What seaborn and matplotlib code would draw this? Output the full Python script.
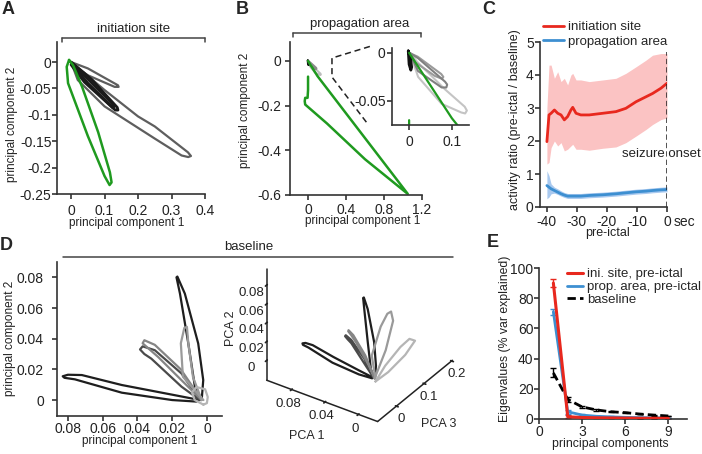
import matplotlib
matplotlib.use("Agg")
import matplotlib.pyplot as plt
import seaborn as sns

sns.set_theme(style="ticks")
plt.rcParams["font.family"] = ["Liberation Sans", "DejaVu Sans"]
plt.rcParams["axes.unicode_minus"] = False

# --------------------------------------------------------------
# data
# --------------------------------------------------------------
GREEN = "#1f9a1f"
RED = "#e8281e"
BLUE = "#3d8fd1"

# A - initiation site trajectories (pc1, pc2)
a_green_x = [-0.006, 0.006, 0.033, 0.081, 0.116, 0.121, 0.115, 0.10, 0.05, -0.009, -0.013, -0.006]
a_green_y = [0.004, -0.006, -0.047, -0.133, -0.209, -0.228, -0.233, -0.216, -0.14, -0.04, -0.009, 0.004]
a_gray_big_x = [0.0, 0.012, 0.10, 0.20, 0.25, 0.349, 0.358, 0.35, 0.33, 0.25, 0.10, 0.02, 0.0]
a_gray_big_y = [0.0, -0.006, -0.053, -0.103, -0.122, -0.171, -0.178, -0.18, -0.177, -0.145, -0.084, -0.034, 0.0]
a_gray_short_x = [0.0, 0.05, 0.14, 0.142, 0.13, 0.05, 0.01]
a_gray_short_y = [0.0, -0.012, -0.044, -0.047, -0.047, -0.025, -0.008]
a_black1_x = [0.0, 0.06, 0.138, 0.14, 0.132, 0.05, 0.003]
a_black1_y = [0.0, -0.032, -0.086, -0.091, -0.091, -0.04, -0.004]
a_black2_x = [0.005, 0.07, 0.13, 0.125, 0.04, 0.0]
a_black2_y = [-0.003, -0.045, -0.083, -0.087, -0.038, -0.005]

# B - propagation area trajectories (pc1, pc2)
b_green_x = [0.0, 0.0, -0.005, -0.03, -0.035, -0.03, 0.2, 0.6, 1.05, 0.1, 0.0]
b_green_y = [-0.07, -0.13, -0.165, -0.165, -0.18, -0.195, -0.28, -0.44, -0.595, -0.068, 0.0]
b_light_x = [0.002, 0.018, 0.084, 0.13, 0.135, 0.131, 0.122, 0.076, 0.021, 0.002]
b_light_y = [0.0, -0.009, -0.038, -0.056, -0.06, -0.063, -0.062, -0.053, -0.025, 0.0]
b_mid1_x = [0.001, 0.021, 0.084, 0.089, 0.087, 0.076, 0.021, 0.001]
b_mid1_y = [0.0, -0.0056, -0.030, -0.033, -0.036, -0.036, -0.019, 0.0]
b_mid2_x = [0.0, 0.02, 0.075, 0.08, 0.077, 0.06, 0.015, 0.0]
b_mid2_y = [0.0, -0.004, -0.022, -0.025, -0.027, -0.024, -0.01, 0.0]
b_black_x = [-0.002, 0.003, 0.006, 0.004, 0.0, -0.002]
b_black_y = [0.002, -0.005, -0.015, -0.018, -0.012, 0.002]

# C - activity ratio before seizure onset
c_time = [-40, -39.3, -38.6, -37.5, -36.4, -35.3, -34.2, -33.1, -32, -31.4, -30.3,
          -28.7, -25.9, -21.4, -17, -13.7, -10.3, -7, -4.8, -2, 0]
c_init = [1.98, 2.79, 2.84, 2.94, 2.84, 2.79, 2.64, 2.74, 2.94, 3.02, 2.84,
          2.79, 2.79, 2.84, 2.89, 2.99, 3.19, 3.34, 3.44, 3.6, 3.75]
c_init_hi = [3.0, 4.3, 4.3, 3.9, 4.1, 3.8, 3.9, 3.7, 4.0, 4.05, 3.85,
             3.85, 3.8, 3.85, 3.9, 4.05, 4.25, 4.45, 4.6, 4.65, 4.65]
c_init_lo = [1.3, 1.35, 1.8, 2.0, 1.85, 1.95, 1.7, 1.75, 1.85, 1.9, 1.75,
             1.75, 1.72, 1.78, 1.82, 1.95, 2.15, 2.35, 2.5, 2.65, 2.7]
c_prop = [0.65, 0.6, 0.55, 0.5, 0.45, 0.4, 0.36, 0.33, 0.33, 0.33, 0.33,
          0.33, 0.35, 0.37, 0.4, 0.43, 0.46, 0.48, 0.5, 0.52, 0.53]
c_prop_hi = [1.1, 0.95, 0.7, 0.6, 0.55, 0.49, 0.44, 0.41, 0.41, 0.41, 0.41,
             0.41, 0.43, 0.45, 0.48, 0.51, 0.54, 0.56, 0.58, 0.6, 0.61]
c_prop_lo = [0.25, 0.3, 0.4, 0.42, 0.38, 0.33, 0.29, 0.26, 0.26, 0.26, 0.26,
             0.26, 0.28, 0.3, 0.33, 0.36, 0.39, 0.41, 0.43, 0.45, 0.46]

# D - baseline trajectories (pc1, pc2, pc3)
d_loops = [
    # colour, pc1, pc2, pc3
    ("#1e1e1e",
     [0.004, 0.02, 0.049, 0.072, 0.080, 0.083, 0.082, 0.076, 0.049, 0.02, 0.006],
     [0.0, 0.0035, 0.0098, 0.0163, 0.0165, 0.0155, 0.0145, 0.0135, 0.0048, 0.0, -0.001],
     [0.0, -0.004, -0.01, -0.016, -0.018, -0.02, -0.021, -0.02, -0.014, -0.006, 0.0]),
    ("#1e1e1e",
     [0.004, 0.0069, 0.0107, 0.0155, 0.0175, 0.017, 0.0127, 0.005, 0.0021, 0.003],
     [0.0, 0.0087, 0.0369, 0.0694, 0.080, 0.0805, 0.0694, 0.0369, 0.013, 0.0],
     [0.0, -0.002, -0.002, 0.0, 0.002, 0.003, 0.004, 0.004, 0.002, 0.0]),
    ("#4a4a4a",
     [0.004, 0.0146, 0.030, 0.037, 0.0385, 0.036, 0.032, 0.0146, 0.004],
     [0.0, 0.0173, 0.0325, 0.035, 0.033, 0.030, 0.027, 0.0087, 0.0],
     [0.0, -0.002, -0.003, -0.002, 0.0, 0.002, 0.003, 0.003, 0.0]),
    ("#858585",
     [0.003, 0.015, 0.030, 0.036, 0.037, 0.034, 0.028, 0.012, 0.003],
     [0.0, 0.02, 0.036, 0.039, 0.037, 0.034, 0.028, 0.01, 0.0],
     [0.0, 0.002, 0.004, 0.005, 0.007, 0.008, 0.008, 0.005, 0.0]),
    ("#9a9a9a",
     [0.002, 0.0138, 0.015, 0.013, 0.0115, 0.0107, 0.008, 0.003],
     [0.0, 0.0152, 0.037, 0.047, 0.0477, 0.037, 0.015, 0.0],
     [0.0, 0.022, 0.058, 0.076, 0.085, 0.09, 0.055, 0.0]),
    ("#b5b5b5",
     [0.002, 0.007, 0.0086, 0.006, 0.001, -0.0005, 0.0, 0.002],
     [-0.003, 0.0, 0.005, 0.0085, 0.007, 0.002, -0.002, -0.003],
     [0.0, 0.05, 0.11, 0.135, 0.14, 0.10, 0.04, 0.0]),
]

# E - eigenvalue spectra
e_pc = [1, 2, 3, 4, 5, 6, 7, 8, 9]
e_init = [90, 1.5, 1.0, 0.8, 0.7, 0.6, 0.5, 0.5, 0.4]
e_init_err = [2.5, 1.0, 0.3, 0.2, 0.2, 0.2, 0.2, 0.2, 0.2]
e_prop = [71, 4.8, 2.6, 1.8, 1.4, 1.1, 0.9, 0.8, 0.7]
e_prop_err = [2.0, 1.2, 0.5, 0.3, 0.3, 0.2, 0.2, 0.2, 0.2]
e_base = [30.5, 13, 8, 6, 4.8, 4.2, 3.3, 2.6, 2.0]
e_base_err = [3.0, 1.5, 0.6, 0.4, 0.3, 0.3, 0.3, 0.3, 0.3]

# --------------------------------------------------------------
# figure helpers
# --------------------------------------------------------------
W, H = 702, 454
fig = plt.figure(figsize=(W / 100, H / 100), dpi=100)
TXT = "#222222"


def add_ax(l, t, r, b, **kw):
    return fig.add_axes([l / W, 1 - b / H, (r - l) / W, (b - t) / H], **kw)


def style(ax, xpad, ypad, size=10):
    sns.despine(ax=ax)
    for s in ("left", "bottom"):
        ax.spines[s].set_linewidth(1.2)
        ax.spines[s].set_color("#333333")
    ax.tick_params(direction="out", length=3.5, width=1.2, labelsize=size,
                   colors="#333333", labelcolor=TXT)
    ax.tick_params(axis="x", pad=xpad)
    ax.tick_params(axis="y", pad=ypad)


def labels(ax, xl, yl, xpos, ypos, size=8.5):
    ax.set_xlabel(xl, fontsize=size, color=TXT, va="center")
    ax.set_ylabel(yl, fontsize=size, color=TXT, va="center")
    ax.xaxis.set_label_coords(*xpos)
    ax.yaxis.set_label_coords(*ypos)


def loop(ax, x, y, color, lw=1.6):
    sns.lineplot(x=x, y=y, sort=False, estimator=None, color=color, lw=lw, ax=ax)


def bracket(ax, x0, x1, y, text, tpos):
    ax.plot([x0, x1], [y, y], color="#444444", lw=1.1, transform=ax.transAxes, clip_on=False)
    for xx in (x0, x1):
        ax.plot([xx, xx], [y, y - 0.025], color="#444444", lw=1.1,
                transform=ax.transAxes, clip_on=False)
    ax.text(tpos[0], tpos[1], text, ha="center", va="center", fontsize=9.5,
            color=TXT, transform=ax.transAxes)


def panel(x, y, letter):
    fig.text(x / W, 1 - y / H, letter, fontsize=13, fontweight="bold", va="center", ha="left")


# --------------------------------------------------------------
# D (3-D view first so that the 2-D panels draw over its empty box)
# --------------------------------------------------------------
ax3 = add_ax(244, 205, 469, 430, projection="3d")
ax3.set_facecolor((1, 1, 1, 0))
for col, x, y, z in d_loops:
    ax3.plot(z, x, y, color=col, lw=1.6)
ax3.set_proj_type("ortho")
ax3.view_init(elev=33.5, azim=-146)
ax3.set_box_aspect((1, 1, 1))
ax3.set_xlim(-0.068, 0.203)
ax3.set_ylim(-0.023, 0.11)
ax3.set_zlim(-0.021, 0.0975)
ax3.set_xticks([0, 0.1, 0.2], ["0", "0.1", "0.2"])
ax3.set_yticks([0, 0.04, 0.08], ["0", "0.04", "0.08"])
ax3.set_zticks([0, 0.02, 0.04, 0.06, 0.08], ["0", "0.02", "0.04", "0.06", "0.08"])
ax3.grid(False)
for a in (ax3.xaxis, ax3.yaxis, ax3.zaxis):
    a.pane.fill = False
    a.pane.set_edgecolor("none")
    a.line.set_color("#222222")
    a.line.set_linewidth(1.1)
    a.set_tick_params(labelsize=9.5, colors="#222222", pad=-4)
    a.set_rotate_label(False)
ax3.zaxis.set_tick_params(pad=-1)
ax3.set_xlabel("PCA 3", fontsize=9, labelpad=-3, rotation=0)
ax3.set_ylabel("PCA 1", fontsize=9, labelpad=-4, rotation=0)
ax3.set_zlabel("PCA 2", fontsize=9, labelpad=-5, rotation=90)

# --------------------------------------------------------------
# A
# --------------------------------------------------------------
ax = add_ax(57, 42, 205, 194)
loop(ax, a_gray_big_x, a_gray_big_y, "#5e5e5e")
loop(ax, a_gray_short_x, a_gray_short_y, "#5e5e5e")
loop(ax, a_black1_x, a_black1_y, "#1a1a1a", 2.0)
loop(ax, a_black2_x, a_black2_y, "#1a1a1a", 2.0)
loop(ax, a_green_x, a_green_y, GREEN, 1.8)
ax.set_xlim(-0.042, 0.4)
ax.set_ylim(-0.25, 0.038)
ax.set_xticks([0, 0.1, 0.2, 0.3, 0.4], ["0", "0.1", "0.2", "0.3", "0.4"])
ax.set_yticks([0, -0.05, -0.1, -0.15, -0.2, -0.25], ["0", "-0.05", "-0.1", "-0.15", "-0.2", "-0.25"])
style(ax, 4, 0.5)
labels(ax, "principal component 1", "principal component 2", (0.47, -0.19), (-0.305, 0.46))
bracket(ax, 0.034, 1.0, 1.026, "initiation site", (0.52, 1.085))
panel(2, 10, "A")

# --------------------------------------------------------------
# B
# --------------------------------------------------------------
ax = add_ax(290, 42, 422, 195)
loop(ax, b_light_x, b_light_y, "#bdbdbd", 1.4)
loop(ax, b_mid1_x, b_mid1_y, "#8a8a8a", 1.4)
loop(ax, b_black_x, b_black_y, "#111111", 1.6)
loop(ax, b_green_x, b_green_y, GREEN, 1.8)
ax.set_xlim(-0.19, 1.2)
ax.set_ylim(-0.6, 0.085)
ax.set_xticks([0, 0.4, 0.8, 1.2], ["0", "0.4", "0.8", "1.2"])
ax.set_yticks([0, -0.2, -0.4, -0.6], ["0", "-0.2", "-0.4", "-0.6"])
style(ax, 2, 3)
labels(ax, "principal component 1", "principal component 2", (0.553, -0.172), (-0.34, 0.556))
bracket(ax, 0.02, 0.99, 1.06, "propagation area", (0.53, 1.12))
# zoom marker
ax.plot([0.605, 0.318, 0.318, 0.583], [0.971, 0.895, 0.771, 0.471], color="#222222",
        lw=1.1, ls=(0, (4, 2.5)), transform=ax.transAxes, clip_on=False)
panel(236, 10, "B")

ins = add_ax(392, 48, 469, 125)
loop(ins, b_light_x, b_light_y, "#c4c4c4", 1.5)
loop(ins, b_mid2_x, b_mid2_y, "#9a9a9a", 1.5)
loop(ins, b_mid1_x, b_mid1_y, "#808080", 1.5)
loop(ins, b_black_x, b_black_y, "#111111", 2.0)
loop(ins, b_green_x, b_green_y, GREEN, 1.6)
ins.set_xlim(-0.04, 0.14)
ins.set_ylim(-0.075, 0.005)
ins.set_xticks([0, 0.1], ["0", "0.1"])
ins.set_yticks([0, -0.05], ["0", "-0.05"])
style(ins, 4, 1)

# --------------------------------------------------------------
# C
# --------------------------------------------------------------
ax = add_ax(540, 42, 667, 207)
ax.fill_between(c_time, c_init_lo, c_init_hi, color="#fbc3c3", lw=0)
ax.fill_between(c_time, c_prop_lo, c_prop_hi, color="#a9c9ef", lw=0)
sns.lineplot(x=c_time, y=c_init, color=RED, lw=2.0, ax=ax, label="initiation site")
sns.lineplot(x=c_time, y=c_prop, color=BLUE, lw=2.0, ax=ax, label="propagation area")
ax.axvline(0, ymax=0.94, color="#222222", lw=1.1, ls=(0, (3.5, 2)))
ax.set_xlim(-42.3, 0)
ax.set_ylim(0, 5)
ax.set_xticks([-40, -30, -20, -10, 0], ["-40", "-30", "-20", "-10", "0"])
ax.set_yticks([0, 1, 2, 3, 4, 5])
style(ax, 2, 1)
ax.annotate("sec", xy=(0, 0), xycoords=("data", "axes fraction"), xytext=(4.5, -5.5),
            textcoords="offset points", ha="left", va="top", fontsize=10, color=TXT)
ax.text(-1.8, 1.6, "seizure onset", ha="center", va="center", fontsize=9.5, color=TXT)
labels(ax, "pre-ictal", "activity ratio (pre-ictal / baseline)", (0.528, -0.158), (-0.197, 0.527), 9)
ax.legend(loc="upper left", bbox_to_anchor=(0.02, 1.126), frameon=False, fontsize=9.5,
          handlelength=1.6, handletextpad=0.3, borderaxespad=0, borderpad=0, labelspacing=0.15)
panel(482, 10, "C")

# --------------------------------------------------------------
# D
# --------------------------------------------------------------
ax = add_ax(57, 262, 222, 416)
for col, x, y, z in d_loops:
    loop(ax, x, y, col, 1.6)
ax.set_xlim(0.0863, -0.0087)
ax.set_ylim(-0.0104, 0.09)
ax.set_xticks([0.08, 0.06, 0.04, 0.02, 0], ["0.08", "0.06", "0.04", "0.02", "0"])
ax.set_yticks([0, 0.02, 0.04, 0.06, 0.08], ["0", "0.02", "0.04", "0.06", "0.08"])
style(ax, 0.5, 6)
labels(ax, "principal component 1", "principal component 2", (0.503, -0.163), (-0.285, 0.506))
ax.plot([0.036, 2.4], [1.03, 1.03], color="#444444", lw=1.1, transform=ax.transAxes, clip_on=False)
ax.text(1.16, 1.095, "baseline", ha="center", va="center", fontsize=9.5, color=TXT, transform=ax.transAxes)
panel(0, 245, "D")

# --------------------------------------------------------------
# E
# --------------------------------------------------------------
ax = add_ax(539, 268, 687, 419)
sns.lineplot(x=e_pc, y=e_init, color=RED, lw=2.2, ax=ax, label="ini. site, pre-ictal", zorder=3)
sns.lineplot(x=e_pc, y=e_prop, color=BLUE, lw=2.0, ax=ax, label="prop. area, pre-ictal")
sns.lineplot(x=e_pc, y=e_base, color="black", lw=2.0, ls=(0, (3, 1.5)), ax=ax, label="baseline")
ax.errorbar(e_pc, e_init, yerr=e_init_err, fmt="none", ecolor=RED, elinewidth=1, capsize=2)
ax.errorbar(e_pc, e_prop, yerr=e_prop_err, fmt="none", ecolor=BLUE, elinewidth=1, capsize=2)
ax.errorbar(e_pc, e_base, yerr=e_base_err, fmt="none", ecolor="black", elinewidth=1, capsize=2)
ax.set_xlim(0, 10.3)
ax.set_ylim(0, 100)
ax.set_xticks([0, 3, 6, 9])
ax.set_yticks([0, 20, 40, 60, 80, 100])
style(ax, 0.5, 0.5)
labels(ax, "principal components", "Eigenvalues (% var explained)", (0.48, -0.166), (-0.228, 0.53), 8.8)
ax.legend(loc="upper left", bbox_to_anchor=(0.19, 1.0), frameon=False, fontsize=9.5,
          handlelength=1.2, handletextpad=0.3, borderaxespad=0, borderpad=0, labelspacing=0.05)
panel(487, 242, "E")

fig.savefig("out.png", dpi=100)
